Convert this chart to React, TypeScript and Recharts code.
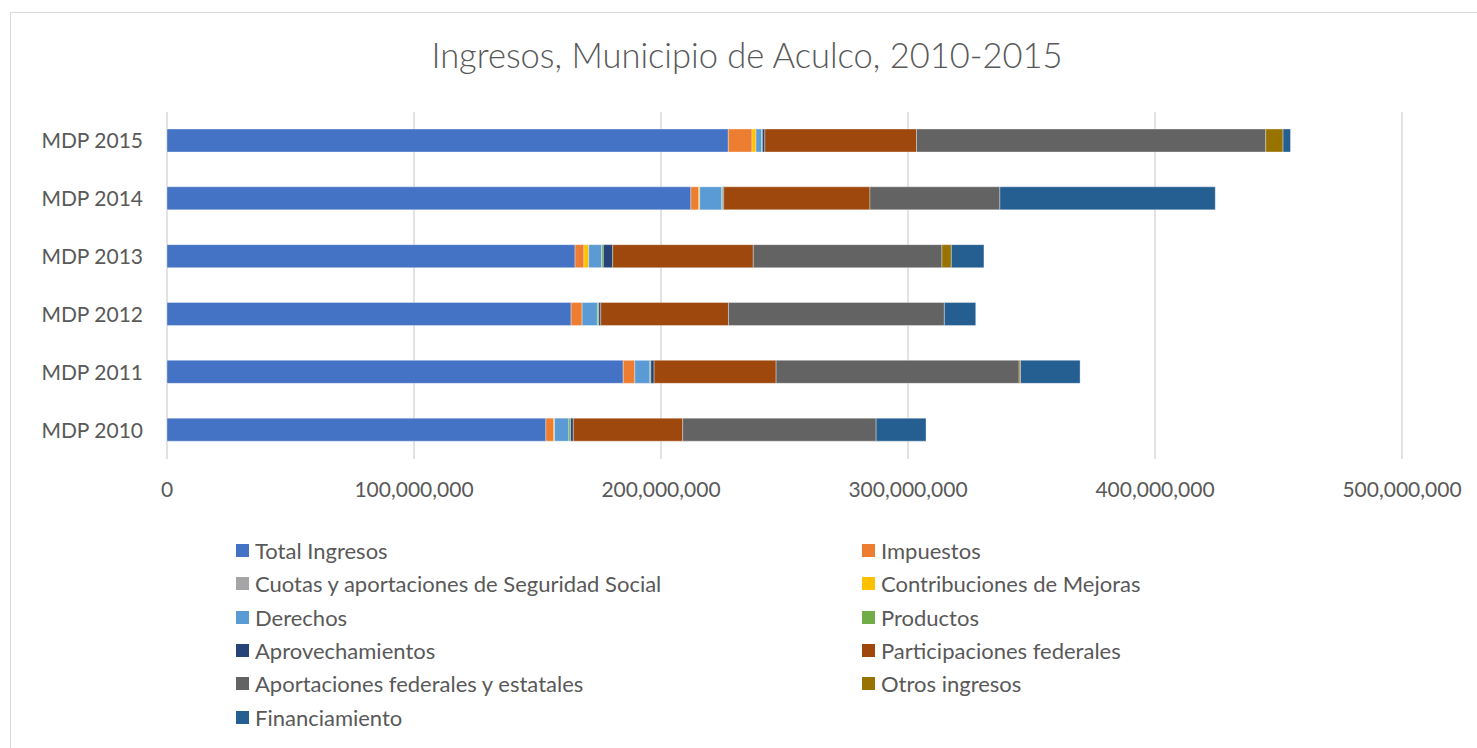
import React from 'react';
import { Bar, BarChart, CartesianGrid, XAxis, YAxis } from 'recharts';

// years, bottom to top as in the reference
const years = ['MDP 2010', 'MDP 2011', 'MDP 2012', 'MDP 2013', 'MDP 2014', 'MDP 2015'];

const totalIngresos = [153400000, 184700000, 163600000, 165200000, 212100000, 227250000];
const impuestos = [3200000, 4700000, 4450000, 3600000, 3200000, 9600000];
const cuotas = [0, 0, 0, 0, 0, 0];
const contribuciones = [300000, 0, 0, 1900000, 400000, 1600000];
const derechos = [5800000, 6100000, 6200000, 5300000, 8900000, 2300000];
const productos = [700000, 400000, 570000, 650000, 400000, 300000];
const aprovechamientos = [1100000, 1300000, 800000, 3800000, 400000, 1000000];
const participaciones = [44300000, 49400000, 51700000, 56900000, 59200000, 61400000];
const aportaciones = [78300000, 98400000, 87400000, 76400000, 52600000, 141400000];
const otrosIngresos = [0, 570000, 0, 3800000, 0, 7000000];
const financiamiento = [20200000, 24100000, 12700000, 13200000, 87200000, 3000000];

const xTicks = [0, 100000000, 200000000, 300000000, 400000000, 500000000];

const series = [
	{ key: 'total', name: 'Total Ingresos', values: totalIngresos, color: '#4472C4' },
	{ key: 'impuestos', name: 'Impuestos', values: impuestos, color: '#ED7D31' },
	{ key: 'cuotas', name: 'Cuotas y aportaciones de Seguridad Social', values: cuotas, color: '#A5A5A5' },
	{ key: 'contribuciones', name: 'Contribuciones de Mejoras', values: contribuciones, color: '#FFC000' },
	{ key: 'derechos', name: 'Derechos', values: derechos, color: '#5B9BD5' },
	{ key: 'productos', name: 'Productos', values: productos, color: '#70AD47' },
	{ key: 'aprovechamientos', name: 'Aprovechamientos', values: aprovechamientos, color: '#264478' },
	{ key: 'participaciones', name: 'Participaciones federales', values: participaciones, color: '#9E480E' },
	{ key: 'aportaciones', name: 'Aportaciones federales y estatales', values: aportaciones, color: '#636363' },
	{ key: 'otros', name: 'Otros ingresos', values: otrosIngresos, color: '#997300' },
	{ key: 'financiamiento', name: 'Financiamiento', values: financiamiento, color: '#255E91' },
];

// recharts puts the first row at the top, so reverse
const data = years
	.map((year, i) => {
		const row: Record<string, string | number> = { year };
		series.forEach((s) => {
			row[s.key] = s.values[i];
		});
		return row;
	})
	.reverse();

const FONT = 'Lato, "Open Sans", sans-serif';

const LegendGrid = () => (
	<div
		style={{
			position: 'absolute',
			left: 236,
			top: 534,
			display: 'grid',
			gridTemplateColumns: '626px 500px',
			gridAutoRows: '33.3px',
			fontFamily: FONT,
			fontSize: 22,
			color: '#595959',
		}}
	>
		{series.map((s) => (
			<div key={s.key} style={{ display: 'flex', alignItems: 'center' }}>
				<span
					style={{
						display: 'inline-block',
						width: 13,
						height: 13,
						background: s.color,
						marginRight: 6,
					}}
				/>
				<span>{s.name}</span>
			</div>
		))}
	</div>
);

const App = () => {
	return (
		<div
			style={{
				position: 'absolute',
				left: 0,
				top: 0,
				width: 1477,
				height: 748,
				background: '#fff',
				overflow: 'hidden',
			}}
		>
			<div
				style={{
					position: 'absolute',
					left: 10,
					top: 12,
					width: 1500,
					height: 800,
					border: '1.5px solid #d9d9d9',
				}}
			/>
			<div
				style={{
					position: 'absolute',
					left: 0,
					top: 34,
					width: 1494,
					textAlign: 'center',
					fontFamily: FONT,
					fontSize: 34.5,
					fontWeight: 300,
					color: '#595959',
				}}
			>
				Ingresos, Municipio de Aculco, 2010-2015
			</div>
			<div style={{ position: 'absolute', left: 0, top: 0 }}>
				<BarChart
					width={1477}
					height={748}
					data={data}
					layout="vertical"
					margin={{ top: 112, right: 75, bottom: 259, left: 0 }}
				>
					<CartesianGrid horizontal={false} stroke="#d9d9d9" strokeWidth={1.5} />
					<XAxis
						type="number"
						domain={[0, 500000000]}
						ticks={xTicks}
						tickFormatter={(v: number) => v.toLocaleString('en-US')}
						axisLine={false}
						tickLine={false}
						tickMargin={17}
						height={30}
						tick={{ fill: '#595959', fontSize: 21, fontFamily: FONT }}
					/>
					<YAxis
						type="category"
						dataKey="year"
						width={167}
						axisLine={false}
						tickLine={false}
						tickMargin={18}
						interval={0}
						tick={{ fill: '#595959', fontSize: 21, fontFamily: FONT }}
					/>
					{series.map((s) => (
						<Bar
							key={s.key}
							dataKey={s.key}
							name={s.name}
							stackId="a"
							fill={s.color}
							barSize={23}
							stroke="#ffffff"
							strokeOpacity={0.45}
							strokeWidth={0.75}
							isAnimationActive={false}
						/>
					))}
				</BarChart>
			</div>
			<LegendGrid />
		</div>
	);
};

export default App;
